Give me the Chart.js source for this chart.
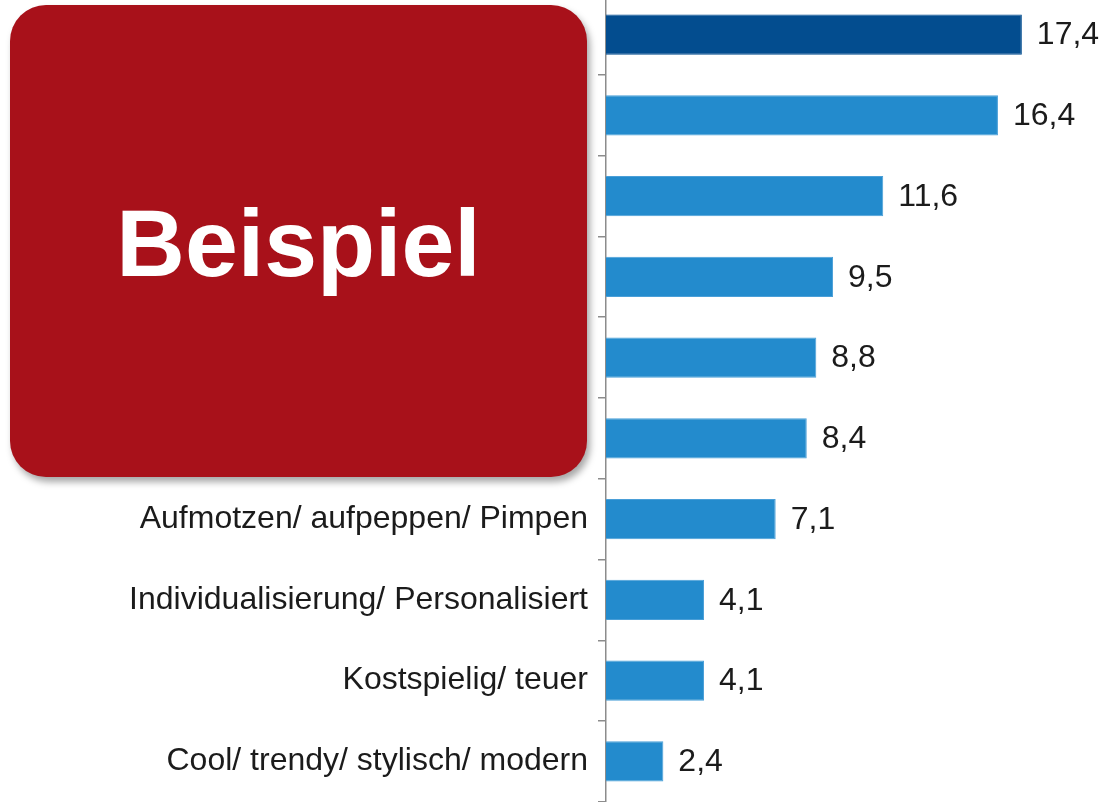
<!DOCTYPE html>
<html>
<head>
<meta charset="utf-8">
<script src="https://cdn.jsdelivr.net/npm/chart.js@4"></script>
<style>
  html, body { margin: 0; padding: 0; background: #fff; }
  #wrap { position: relative; width: 1103px; height: 802px; overflow: hidden; }
  #cv-box { position: absolute; left: 0; top: -35px; width: 1103px; height: 866px; }
  #stamp {
    position: absolute; left: 10px; top: 5px; width: 577px; height: 472px;
    background: #a8111a; border-radius: 36px;
    box-shadow: 3px 5px 7px rgba(0,0,0,0.35);
    display: flex; align-items: center; justify-content: center;
    color: #fff; font: bold 95px "Liberation Sans", Arial, sans-serif;
    line-height: 1; padding-top: 4px; box-sizing: border-box;
  }
</style>
</head>
<body>
<div id="wrap">
  <div id="cv-box"><canvas id="c"></canvas></div>
  <div id="stamp">Beispiel</div>
</div>
<script>
"use strict";

// labels of the first six rows are covered by the overlay in the source
const LABELS = ["", "", "", "", "", "",
  "Aufmotzen/ aufpeppen/ Pimpen",
  "Individualisierung/ Personalisiert",
  "Kostspielig/ teuer",
  "Cool/ trendy/ stylisch/ modern"];
const VALUES = [17.4, 16.4, 11.6, 9.5, 8.8, 8.4, 7.1, 4.1, 4.1, 2.4];

const DARK = "#034d8f";
const LIGHT = "#238bcd";
const TEXT = "#1b1b1b";
const FONT = '"Liberation Sans", Arial, sans-serif';

/* value labels at the end of each bar, comma decimal */
const valueLabels = {
  id: "valueLabels",
  afterDatasetsDraw(chart) {
    const ctx = chart.ctx;
    const meta = chart.getDatasetMeta(0);
    ctx.save();
    ctx.fillStyle = TEXT;
    ctx.font = "32px " + FONT;
    ctx.textAlign = "left";
    ctx.textBaseline = "middle";
    meta.data.forEach((bar, i) => {
      ctx.fillText(VALUES[i].toFixed(1).replace(".", ","), bar.x + 15, bar.y + 1);
    });
    ctx.restore();
  },
};

new Chart(document.getElementById("c"), {
  type: "bar",
  data: {
    labels: LABELS,
    datasets: [{
      data: VALUES,
      backgroundColor: VALUES.map((v, i) => i === 0 ? DARK : LIGHT),
      borderColor: VALUES.map((v, i) => i === 0 ? DARK : "#4a9fd8"),
      borderWidth: 1,
      borderSkipped: "start",
      categoryPercentage: 1,
      barPercentage: 0.5,
    }],
  },
  options: {
    indexAxis: "y",
    responsive: true,
    maintainAspectRatio: false,
    animation: false,
    layout: { padding: { left: 0, right: 19, top: 0, bottom: 0 } },
    scales: {
      x: { display: false, min: 0, max: 20 },
      y: {
        afterFit: (s) => { s.width = 606; },
        border: { display: true, color: "#8c8c8c", width: 1.5 },
        grid: { drawOnChartArea: false, color: "#8c8c8c", tickLength: 8, lineWidth: 1.5 },
        ticks: { color: TEXT, font: { family: FONT, size: 32 }, padding: 10 },
      },
    },
    plugins: { legend: { display: false }, tooltip: { enabled: false } },
  },
  plugins: [valueLabels],
});
</script>
</body>
</html>
